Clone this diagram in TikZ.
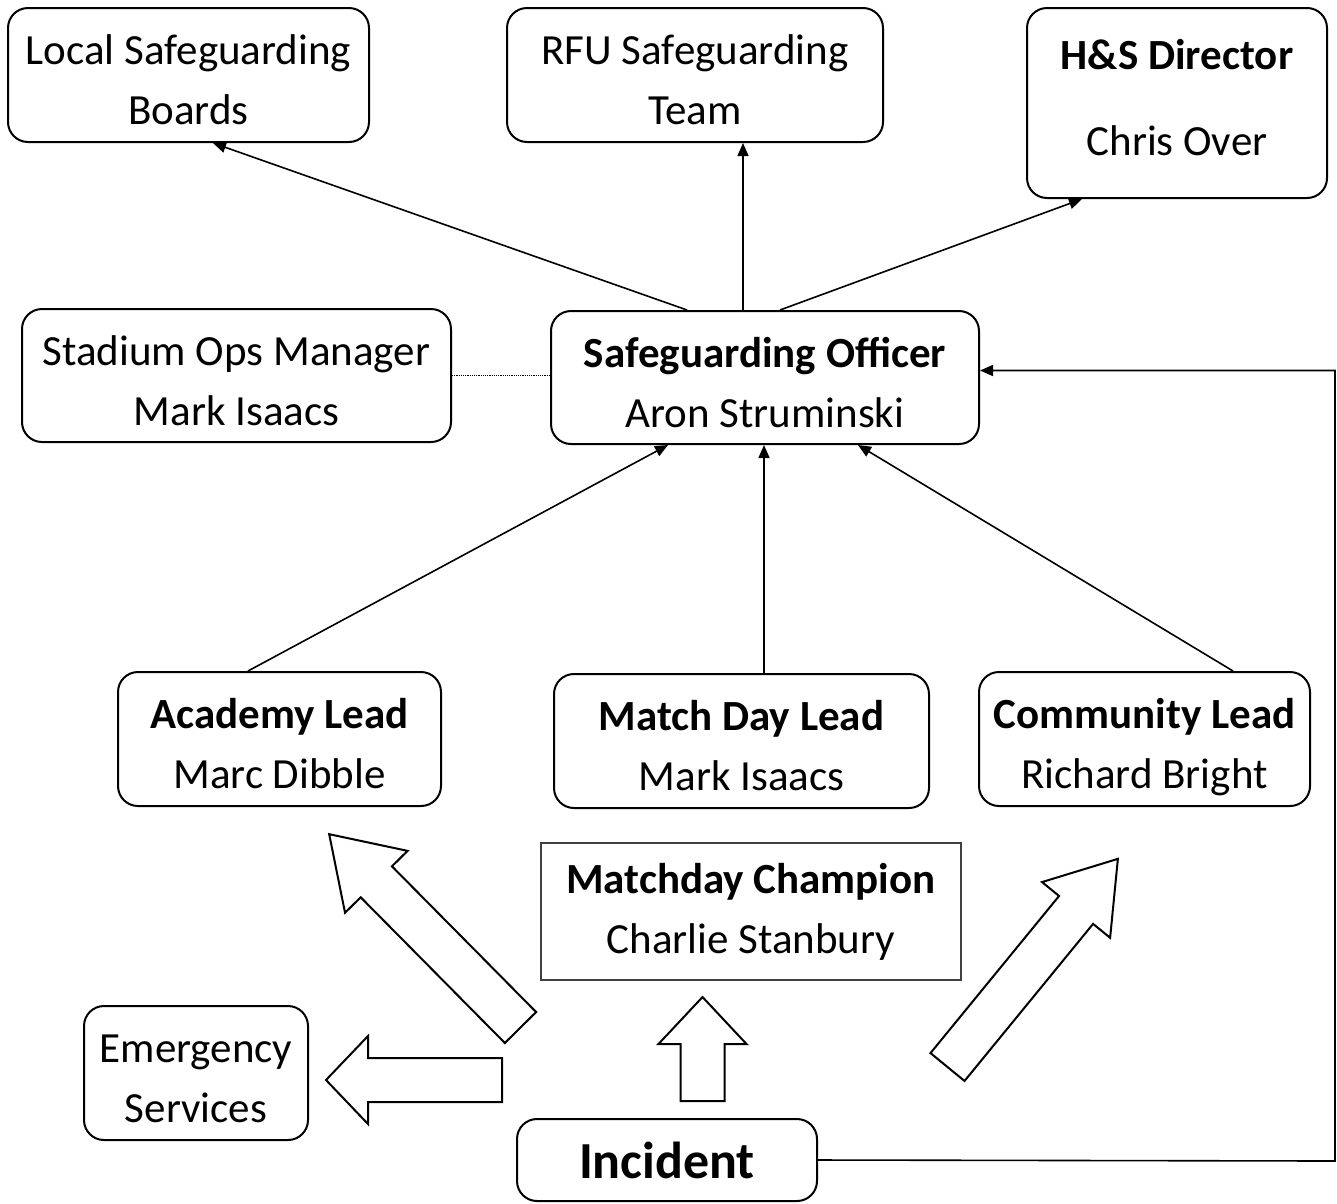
\documentclass[tikz,border=0pt]{standalone}
\usepackage{fontspec}
\setmainfont{Carlito}
\usetikzlibrary{positioning,calc,arrows.meta}
\tikzset{
    roleBox/.style={draw, rounded corners=20pt, line width=2pt, align=center, inner sep=0pt,
		minimum height=134pt, text height=99pt, text depth=0pt, font=\fontsize{43}{60}\selectfont},
    champBox/.style={draw=black!75, line width=1.2pt, align=center, inner sep=0pt,
		minimum height=137pt, font=\fontsize{43}{60}\selectfont},
    incBox/.style={draw, rounded corners=20pt, line width=2pt, inner sep=0pt,
		minimum height=82pt, font=\fontsize{52}{60}\selectfont\bfseries},
    link/.style={line width=1.6pt, -{Triangle[length=13pt,width=11pt]}},
    blockLine/.style={draw, fill=white, line width=2pt},
}
\tikzset{
    pics/blockArrow/.style 2 args={code={
		\draw[blockLine] (0,-22) -- ({#1-#2},-22) -- ({#1-#2},-44) -- (#1,0) -- ({#1-#2},44) -- ({#1-#2},22) -- (0,22) -- cycle;
	}}
}
\begin{document}
\begin{tikzpicture}[x=1pt,y=-1pt]
			\useasboundingbox (0,0) rectangle (1337,1203);
			% top row
			\node[roleBox, minimum width=361pt] (lsb) at (188.5,75) {Local Safeguarding\\Boards};
			\node[roleBox, minimum width=376pt] (rfu) at (695,75) {RFU Safeguarding\\Team};
			\node[roleBox, minimum width=300pt, minimum height=190pt, text height={}, text depth=12pt] (hs) at (1177,103) {\textbf{H\&S Director}\\[26pt]Chris Over};
			% officer row
			\node[roleBox, minimum width=429pt, minimum height=133pt] (som) at (236.5,375.5) {Stadium Ops Manager\\Mark Isaacs};
			\node[roleBox, minimum width=428pt, minimum height=133pt] (so) at (765,377.5) {\textbf{Safeguarding Officer}\\Aron Struminski};
			% leads
			\node[roleBox, minimum width=323pt] (acad) at (279.5,739) {\textbf{Academy Lead}\\Marc Dibble};
			\node[roleBox, minimum width=375pt] (mdl) at (741.5,741) {\textbf{Match Day Lead}\\Mark Isaacs};
			\node[roleBox, minimum width=331pt] (comm) at (1144.5,739) {\textbf{Community Lead}\\Richard Bright};
			\node[champBox, minimum width=420pt] (champ) at (751,911.5) {\textbf{Matchday Champion}\\Charlie Stanbury};
			% bottom
			\node[roleBox, minimum width=224pt] (emer) at (196,1073) {Emergency\\Services};
			\node[incBox, minimum width=300pt] (inc) at (667,1160) {Incident};
			\coordinate (turn) at (1335,1161);
			\draw[link] ($(so.north)+(-78,0)$) -- ($(lsb.south)+(24.5,0)$);
			\draw[link] ($(so.north)+(-22,0)$) -- ($(rfu.south)+(48,0)$);
			\draw[link] ($(so.north)+(15,0)$) -- ($(hs.south)+(-95,0)$);
			\draw[line width=1.2pt, densely dotted] (som.east) -- (som.east -| so.west);
			\draw[link] ($(acad.north)+(-31.5,0)$) -- ($(so.south)+(-97,0)$);
			\draw[link] ($(mdl.north)+(22.5,0)$) -- ($(so.south)+(-1,0)$);
			\draw[link] ($(comm.north)+(88.5,0)$) -- ($(so.south)+(93,0)$);
			\draw[link] (inc.east) -- (turn) |- ($(so.east)+(0,-7)$);
			% block arrows
			\pic[rotate=90] at (702.5,1101) {blockArrow={104}{47}};
			\pic[rotate=180] at (502,1080) {blockArrow={176}{42}};
			\pic[rotate=134.7] at (520.5,1027.5) {blockArrow={272}{67}};
			\pic[rotate=50.7] at (947.5,1067) {blockArrow={269}{66}};
\end{tikzpicture}
\end{document}
